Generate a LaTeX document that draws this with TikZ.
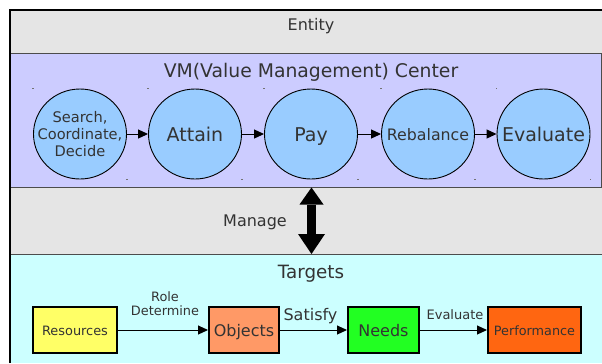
\documentclass[tikz,border=0pt]{standalone}
\usepackage{fontspec}
\setmainfont{DejaVu Sans}
\usetikzlibrary{arrows.meta,shapes.geometric,calc}

\definecolor{bandgray}{HTML}{E5E5E5}
\definecolor{vmblue}{HTML}{CCCCFF}
\definecolor{tgcyan}{HTML}{CCFFFF}
\definecolor{stepblue}{HTML}{99CCFF}
\definecolor{txt}{HTML}{333333}
\definecolor{resyellow}{HTML}{FFFF66}
\definecolor{objsalmon}{HTML}{FF9966}
\definecolor{needgreen}{HTML}{22FF22}
\definecolor{perforange}{HTML}{FF6611}

\tikzset{
  fs/.style n args={2}{font=\fontsize{#1bp}{#2bp}\selectfont},
  label/.style={text=txt, inner sep=0pt, align=center},
  baselabel/.style={text=txt, inner sep=0pt, anchor=base},
  % fixed-size ellipse; its caption is placed as a separate text node
  stepnode/.style={ellipse, draw=black, line width=0.9bp, fill=stepblue,
    minimum width=93bp, minimum height=90bp, inner sep=0pt},
  steptext/.style={text=txt, inner sep=0pt, align=center},
  box/.style={rectangle, draw=black, line width=2bp, minimum height=46bp,
    inner sep=0pt, text=txt, text depth=0pt},
  flow/.style={draw=black, line width=1bp, -{Triangle[length=10bp,width=9bp]}},
  sep/.style={draw=black!70, line width=0.9bp},
  corner/.style={fill=black!55}
}

\begin{document}
\begin{tikzpicture}[x=1bp,y=-1bp]
\useasboundingbox (0,0) rectangle (602,363);

% horizontal bands
\fill[bandgray] (10,10) rectangle (602,53);
\fill[vmblue]   (10,53) rectangle (601,187);
\fill[bandgray] (10,187) rectangle (602,254);
\fill[tgcyan]   (10,254) rectangle (602,363);

% band separators
\draw[sep] (10,53) -- (602,53);
\draw[sep] (601,53) -- (601,187);
\draw[sep] (10,187) -- (602,187);
\draw[sep] (10,254) -- (602,254);

% outer frame
\draw[line width=2bp, black] (10,363) -- (10,10) -- (602,10);

% band titles
\node[baselabel, fs={16}{19}] (entity) at (311,30.8) {Entity};
\node[baselabel, fs={18.8}{22}] (vmtitle) at (311,77.3) {VM(Value Management) Center};
\node[baselabel, fs={16}{19}] (manage) at (255,226.7) {Manage};
\node[baselabel, fs={18.3}{21}] (targets) at (311,278) {Targets};

% value management cycle
\node[stepnode] (c1) at (80,134) {};
\node[stepnode] (c2) at (195,134) {};
\node[stepnode] (c3) at (311,134) {};
\node[stepnode] (c4) at (428,134) {};
\node[stepnode] (c5) at (543.5,134) {};

\node[steptext, fs={14.6}{17}] (t1) at (c1.center) {Search,\\Coordinate,\\Decide};
\node[baselabel, fs={19}{22}] (t2) at ($(c2.center)+(0,7)$) {Attain};
\node[baselabel, fs={19}{22}] (t3) at ($(c3.center)+(0,7)$) {Pay};
\node[baselabel, fs={15.8}{19}] (t4) at ($(c4.center)+(0,6.8)$) {Rebalance};
\node[baselabel, fs={19}{22}] (t5) at ($(c5.center)+(0,7)$) {Evaluate};

\draw[flow] (c1) -- (c2);
\draw[flow] (c2) -- (c3);
\draw[flow] (c3) -- (c4);
\draw[flow] (c4) -- (c5);

% bounding-box corner marks of the cycle nodes
\foreach \n in {c1,c2,c3,c4,c5}{
  \fill[corner] ($(\n.west |- \n.north)+(-0.6,-0.6)$) rectangle ++(1.2,1.2);
  \fill[corner] ($(\n.east |- \n.south)+(-0.6,-0.6)$) rectangle ++(1.2,1.2);
}

% manage link between the centre and the targets
\coordinate (mtop) at (311.5,187.5);
\coordinate (mbot) at (311.5,254);
\draw[line width=9.5bp,
  {Triangle[length=17bp,width=24bp,line width=0pt]}-{Triangle[length=20bp,width=27bp,line width=0pt]}]
  (mtop) -- (mbot);

% targets chain
\node[box, fill=resyellow, minimum width=84bp, text height=10bp, fs={12.9}{15}] (res) at (75,330) {Resources};
\node[box, fill=objsalmon, minimum width=70bp, text height=13.4bp, fs={16}{19}] (obj) at (244,330) {Objects};
\node[box, fill=needgreen, minimum width=71bp, text height=13.4bp, fs={16}{19}] (need) at (383.5,330) {Needs};
\node[box, fill=perforange, minimum width=93bp, text height=10.6bp, fs={12.8}{15}] (perf) at (534.5,330) {Performance};

\draw[flow] (res) -- (obj);
\draw[flow] (obj) -- (need);
\draw[flow] (need) -- (perf);

\node[label, fs={12.9}{14.3}] (roledet) at (165,303.5) {Role\\Determine};
\node[baselabel, fs={16}{19}] (satisfy) at (310.5,320.7) {Satisfy};
\node[baselabel, fs={13}{15}] (evallab) at (455,319) {Evaluate};
\end{tikzpicture}
\end{document}
